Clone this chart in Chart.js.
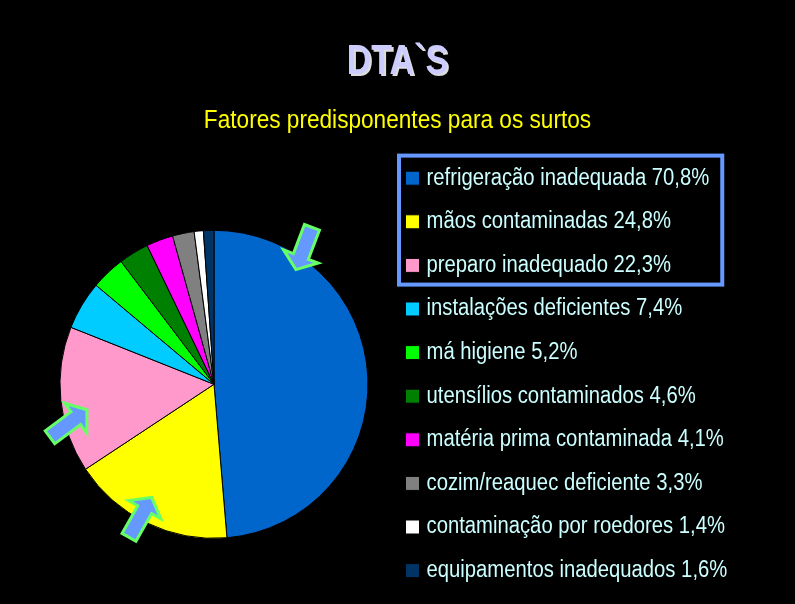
<!DOCTYPE html>
<html>
<head>
<meta charset="utf-8">
<script src="https://cdn.jsdelivr.net/npm/chart.js@4/dist/chart.umd.js"></script>
<style>html,body{margin:0;padding:0;background:#000;overflow:hidden}canvas{display:block}</style>
</head>
<body>
<canvas id="c" width="795" height="604"></canvas>
<script>
const titleText = "DTA`S";
const subtitleText = "Fatores predisponentes para os surtos";
const categories = ["refrigeração inadequada","mãos contaminadas","preparo inadequado","instalações deficientes","má higiene","utensílios contaminados","matéria prima contaminada","cozim/reaquec deficiente","contaminação por roedores","equipamentos inadequados"];
const values = [70.8,24.8,22.3,7.4,5.2,4.6,4.1,3.3,1.4,1.6];
const colors = ["#0066CC","#FFFF00","#FF99CC","#00CCFF","#00FF00","#008000","#FF00FF","#808080","#FFFFFF","#003366"];
const highlightedCount = 3;
const labels = categories.map((c,i)=>c+" "+values[i].toFixed(1).replace(".",",")+"%");
const FONT = "'Liberation Sans',Arial,sans-serif";
const LEGEND_SCALE = 0.881, TITLE_SCALE = 0.81, SUB_SCALE = 0.87;

// The reference text is horizontally condensed: draw a box's text squeezed around its anchor.
function condense(box, ctx, scale, shadow){
  const orig = box.draw.bind(box);
  box.draw = function(){
    const f = ctx.fillText;
    ctx.fillText = function(t,x,y,m){
      ctx.save(); ctx.translate(x,y); ctx.scale(scale,1);
      if(shadow){ctx.shadowColor="#DDDDDD";ctx.shadowOffsetX=2;ctx.shadowOffsetY=2;ctx.shadowBlur=0;}
      f.call(ctx,t,0,0); ctx.restore();
    };
    orig();
    delete ctx.fillText;
  };
}

const decorations = {
  id:"decorations",
  afterLayout(chart){
    // The legend needs the tall area; the pie sits lower, centred on an area reaching past the canvas foot.
    const area = chart.chartArea;
    area.bottom += 18.5;
    area.height += 18.5;
    if(chart._condensed) return;
    chart._condensed = true;
    const ctx = chart.ctx;
    condense(chart.titleBlock, ctx, TITLE_SCALE, true);
    const sub = chart.boxes.find(b=>b!==chart.titleBlock && b.options && b.options.text===subtitleText);
    if(sub) condense(sub, ctx, SUB_SCALE, false);
    condense(chart.legend, ctx, LEGEND_SCALE, false);
  },
  afterDraw(chart){
    const ctx = chart.ctx;
    const hb = chart.legend.legendHitBoxes.slice(0,highlightedCount);
    const a = hb[0], b = hb[highlightedCount-1];
    const lead = 16.5;
    const maxW = Math.max(...hb.map(h=>h.width));
    const right = a.left + lead + (maxW-lead)*LEGEND_SCALE + 13;
    ctx.save();
    ctx.strokeStyle="#6699FF"; ctx.lineWidth=4;
    ctx.strokeRect(a.left-11, a.top-11.1, right-a.left+11, b.top+b.height-a.top+18.8);
    const arc = chart.getDatasetMeta(0).data[0];
    const R = arc.outerRadius, cx = arc.x, cy = arc.y;
    [[.532,-.745,.636,-1.019],[-.825,.165,-1.065,.344],[-.405,.735,-.552,.994]].forEach(([tx,ty,bx,by])=>{
      const x0=cx+bx*R,y0=cy+by*R,x1=cx+tx*R,y1=cy+ty*R;
      const L=Math.hypot(x1-x0,y1-y0),ux=(x1-x0)/L,uy=(y1-y0)/L,nx=-uy,ny=ux;
      const s=8,h=18.5,hl=14;
      const P=(d,w)=>[x0+ux*d+nx*w,y0+uy*d+ny*w];
      const pts=[P(0,-s),P(L-hl,-s),P(L-hl,-h),P(L,0),P(L-hl,h),P(L-hl,s),P(0,s)];
      ctx.beginPath();pts.forEach((p,i)=>i?ctx.lineTo(p[0],p[1]):ctx.moveTo(p[0],p[1]));ctx.closePath();
      ctx.fillStyle="#6699FF";ctx.strokeStyle="#66FF66";ctx.lineWidth=3;ctx.lineJoin="miter";ctx.fill();ctx.stroke();
    });
    ctx.restore();
  }
};

new Chart(document.getElementById("c"),{
  type:"pie",
  data:{labels:labels,datasets:[{data:values,backgroundColor:colors,borderColor:"#000000",borderWidth:1,radius:154}]},
  plugins:[decorations],
  options:{
    responsive:false,animation:false,
    layout:{padding:{left:38.6,right:38.6,top:0,bottom:0}},
    plugins:{
      tooltip:{enabled:false},
      title:{display:true,text:titleText,color:"#CCCCFF",font:{family:FONT,size:42,weight:"bold"},padding:{top:37,bottom:8}},
      subtitle:{display:true,text:subtitleText,color:"#FFFF00",font:{family:FONT,size:26,weight:"normal"},padding:{top:10,bottom:9.5}},
      legend:{position:"right",align:"start",fullSize:false,maxWidth:367,labels:{color:"#CCFFFF",font:{family:FONT,size:23},usePointStyle:true,pointStyle:"rect",boxWidth:5,boxHeight:14,padding:20.6}}
    }
  }
});
</script>
</body>
</html>
